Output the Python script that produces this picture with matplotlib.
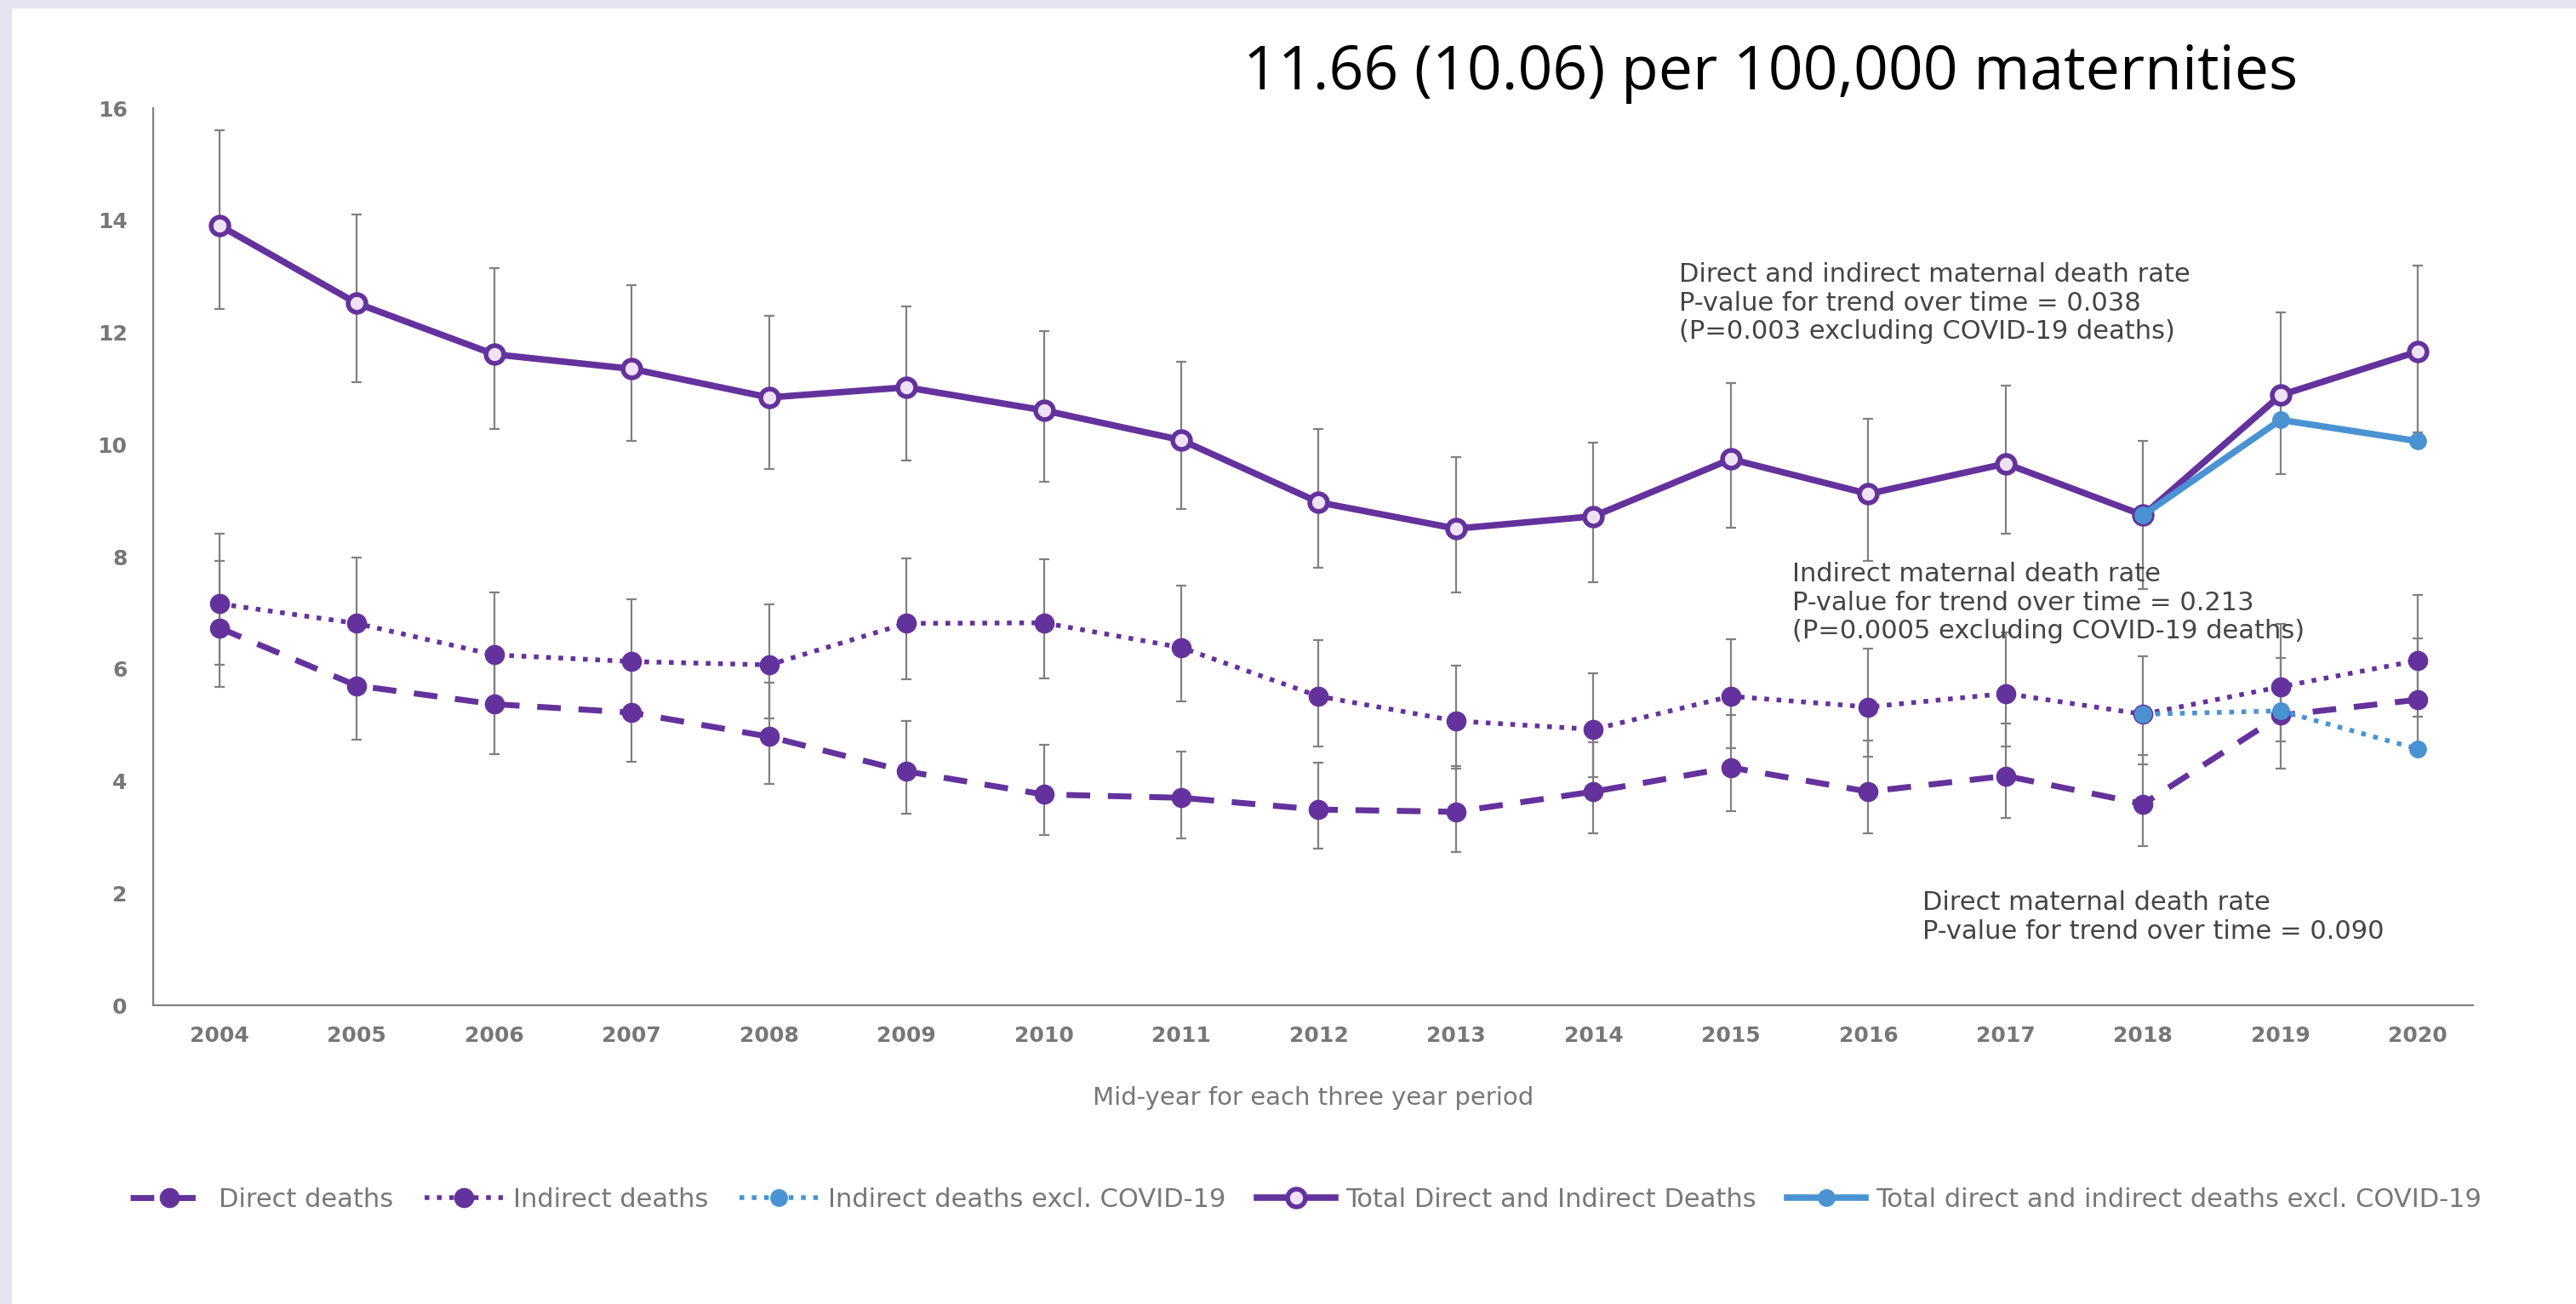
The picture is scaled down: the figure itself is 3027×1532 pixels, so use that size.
import numpy as np
import matplotlib.pyplot as plt
from matplotlib.patches import Rectangle

# 3-year rolling maternal death rates per 100,000 maternities
years = list(range(2004, 2021))
total = [13.91, 12.52, 11.61, 11.35, 10.84, 11.02, 10.61, 10.08, 8.97, 8.50,
         8.72, 9.74, 9.12, 9.66, 8.74, 10.88, 11.66]
total_lo = [12.41, 11.11, 10.28, 10.06, 9.56, 9.71, 9.33, 8.85, 7.81, 7.36,
            7.55, 8.52, 7.93, 8.41, 7.42, 9.48, 10.21]
total_hi = [15.60, 14.11, 13.14, 12.84, 12.30, 12.47, 12.02, 11.47, 10.27, 9.78,
            10.03, 11.09, 10.46, 11.05, 10.07, 12.35, 13.19]
indirect = [7.16, 6.81, 6.25, 6.13, 6.07, 6.81, 6.82, 6.38, 5.51, 5.07,
            4.92, 5.51, 5.32, 5.56, 5.19, 5.68, 6.15]
indirect_lo = [6.07, 5.75, 5.25, 5.10, 5.11, 5.81, 5.83, 5.42, 4.62, 4.22,
               4.07, 4.59, 4.43, 4.61, 4.29, 4.71, 5.15]
indirect_hi = [8.41, 7.99, 7.36, 7.24, 7.15, 7.97, 7.95, 7.48, 6.51, 6.06,
               5.92, 6.53, 6.36, 6.65, 6.23, 6.80, 7.32]
direct = [6.73, 5.70, 5.37, 5.22, 4.79, 4.17, 3.76, 3.70, 3.49, 3.45,
          3.81, 4.24, 3.81, 4.09, 3.59, 5.17, 5.45]
direct_lo = [5.68, 4.74, 4.48, 4.34, 3.95, 3.41, 3.03, 2.98, 2.79, 2.73,
             3.06, 3.46, 3.06, 3.34, 2.84, 4.22, 4.50]
direct_hi = [7.93, 6.72, 6.35, 6.20, 5.75, 5.07, 4.64, 4.53, 4.32, 4.26,
             4.69, 5.17, 4.72, 5.02, 4.47, 6.20, 6.54]

excl_years = [2018, 2019, 2020]
total_excl = [8.74, 10.44, 10.06]
indirect_excl = [5.19, 5.25, 4.57]

PURPLE = "#64329c"
BLUE = "#4a93d3"
GREY = "#808080"
TEXT = "#444444"

fig = plt.figure(figsize=(30.27, 15.32), dpi=100, facecolor="#e6e2f0")
# white panel inside the lavender frame
fig.patches.append(Rectangle((14 / 3027, 0), 1, 1 - 10 / 1532,
                             transform=fig.transFigure, facecolor="white",
                             edgecolor="none", zorder=-5))

ax = fig.add_axes([0.0595, 0.2291, 0.9005, 0.688])
ax.set_facecolor("none")
ax.set_zorder(2)

y = np.array(years)
err_kw = dict(fmt="none", ecolor=GREY, elinewidth=1.6, capsize=4, capthick=1.6, zorder=1)
for vals, lo, hi in [(total, total_lo, total_hi),
                     (indirect, indirect_lo, indirect_hi),
                     (direct, direct_lo, direct_hi)]:
    v = np.array(vals)
    ax.errorbar(y, v, yerr=[v - np.array(lo), np.array(hi) - v], **err_kw)

h_direct, = ax.plot(years, direct, color=PURPLE, lw=5, dashes=(4, 3),
                    marker="o", ms=16, zorder=3, label="Direct deaths")
h_ind, = ax.plot(years, indirect, color=PURPLE, lw=4, dashes=(1, 1.6),
                 marker="o", ms=16, zorder=3, label="Indirect deaths")
h_ind_ex, = ax.plot(excl_years, indirect_excl, color=BLUE, lw=4, dashes=(1, 1.6),
                    marker="o", ms=14, zorder=4,
                    label="Indirect deaths excl. COVID-19")
h_tot, = ax.plot(years, total, color=PURPLE, lw=5.5, marker="o", ms=15,
                 mfc="#f0e2f6", mec=PURPLE, mew=4, zorder=3,
                 label="Total Direct and Indirect Deaths")
h_tot_ex, = ax.plot(excl_years, total_excl, color=BLUE, lw=5.5, marker="o", ms=14,
                    zorder=4, label="Total direct and indirect deaths excl. COVID-19")

ax.set_xlim(2003.52, 2020.4)
ax.set_ylim(0, 16)
ax.set_xticks(years)
ax.set_yticks(range(0, 17, 2))
for s in ["top", "right"]:
    ax.spines[s].set_visible(False)
for s in ["left", "bottom"]:
    ax.spines[s].set_color(GREY)
    ax.spines[s].set_linewidth(1.6)
ax.tick_params(axis="both", length=0, labelsize=18, labelcolor="#777777")
ax.tick_params(axis="y", pad=22)
ax.tick_params(axis="x", pad=17)
for lab in ax.get_xticklabels() + ax.get_yticklabels():
    lab.set_fontweight("bold")

ax.set_xlabel("Mid-year for each three year period", fontsize=21, color="#777777",
              labelpad=34)

# trend annotations
fig.text(0.6518, 0.799,
         "Direct and indirect maternal death rate\n"
         "P-value for trend over time = 0.038\n"
         "(P=0.003 excluding COVID-19 deaths)",
         fontsize=22, color=TEXT, va="top", ha="left")
fig.text(0.6957, 0.569,
         "Indirect maternal death rate\n"
         "P-value for trend over time = 0.213\n"
         "(P=0.0005 excluding COVID-19 deaths)",
         fontsize=22, color=TEXT, va="top", ha="left")
fig.text(0.7463, 0.3172,
         "Direct maternal death rate\n"
         "P-value for trend over time = 0.090",
         fontsize=22, color=TEXT, va="top", ha="left")

fig.text(0.4827, 0.944, "11.66 (10.06) per 100,000 maternities",
         fontsize=51.5, family="Open Sans", color="black", va="center", ha="left")

leg = fig.legend(handles=[h_direct, h_ind, h_ind_ex, h_tot, h_tot_ex],
                 loc="center", bbox_to_anchor=(0.507, 0.080), ncol=5,
                 frameon=False, fontsize=22, handlelength=3.0,
                 handletextpad=0.4, columnspacing=1.2)
for t in leg.get_texts():
    t.set_color("#777777")

fig.savefig("out.png", dpi=100, facecolor=fig.get_facecolor())
